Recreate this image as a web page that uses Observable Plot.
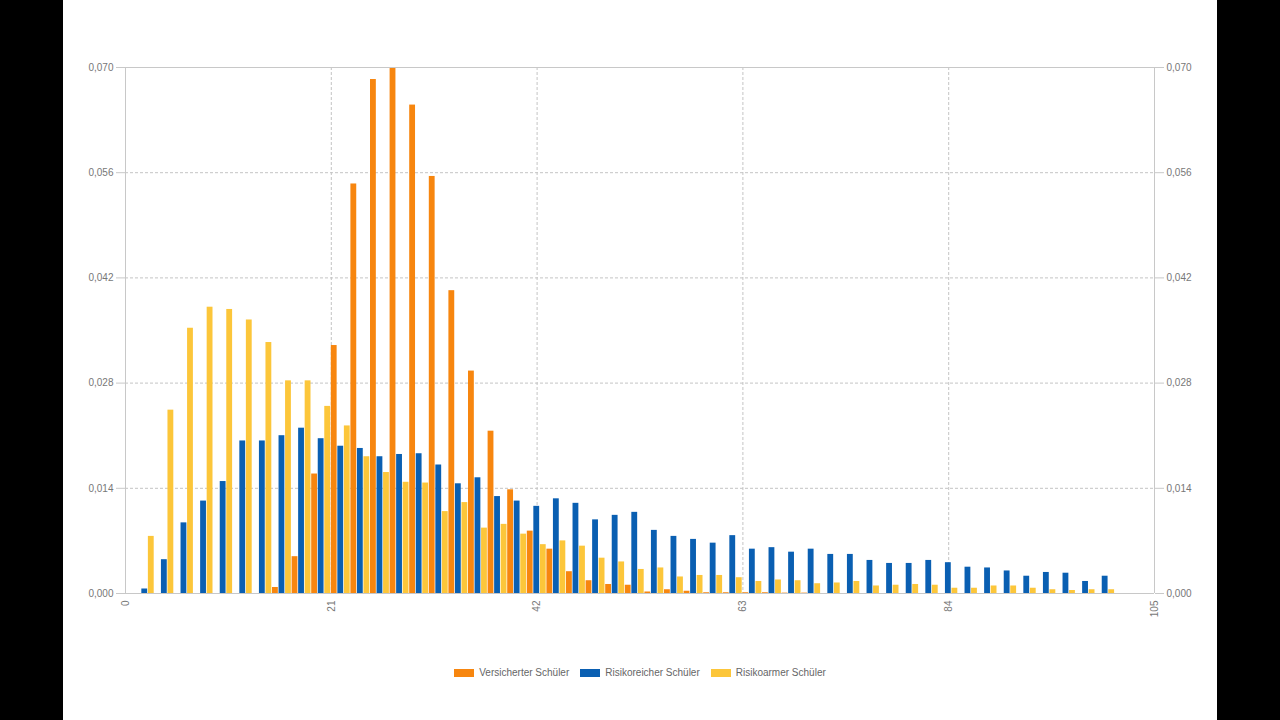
<!DOCTYPE html>
<html>
<head>
<meta charset="utf-8">
<script src="https://cdn.jsdelivr.net/npm/d3@7"></script>
<script src="https://cdn.jsdelivr.net/npm/@observablehq/plot@0.6"></script>
<style>
  html, body { margin: 0; padding: 0; background: #000; width: 1280px; height: 720px; overflow: hidden; }
  #panel { position: absolute; left: 63px; top: 0; width: 1154px; height: 720px; background: #fff; }
  #legend { display: flex; justify-content: center; align-items: center; margin-top: 27px;
            font-family: "Liberation Sans", Arial, sans-serif; font-size: 10px; color: #666; }
  .item { display: flex; align-items: center; margin: 0 5.5px; }
  .sw { width: 20px; height: 8px; margin-right: 5px; }
</style>
</head>
<body>
<div id="panel"></div>
<script>
const groups = [2,4,6,8,10,12,14,16,18,20,22,24,26,28,30,32,34,36,38,40,42,44,46,48,50,52,54,56,58,60,62,64,66,68,70,72,74,76,78,80,82,84,86,88,90,92,94,96,98,100];

const versicherter = [0,0,0,0,0,0,0,0.0008,0.0049,0.0159,0.0330,0.0545,0.0684,0.0699,0.0650,0.0555,0.0403,0.0296,0.0216,0.0138,0.0083,0.0059,0.0029,0.0017,0.0012,0.0011,0.0002,0.0005,0.0003,0.0001,0.0001,0.0001,0.0001,0.00005,0.00005,0,0,0,0,0,0,0,0,0,0,0,0,0,0,0];

const risikoreich = [0.0006,0.0045,0.0094,0.0123,0.0149,0.0203,0.0203,0.0210,0.0220,0.0206,0.0196,0.0193,0.0182,0.0185,0.0186,0.0171,0.0146,0.0154,0.0129,0.0123,0.0116,0.0126,0.0120,0.0098,0.0104,0.0108,0.0084,0.0076,0.0072,0.0067,0.0077,0.0059,0.0061,0.0055,0.0059,0.0052,0.0052,0.0044,0.0040,0.0040,0.0044,0.0041,0.0035,0.0034,0.0030,0.0023,0.0028,0.0027,0.0016,0.0023];

const risikoarm = [0.0076,0.0244,0.0353,0.0381,0.0378,0.0364,0.0334,0.0283,0.0283,0.0249,0.0223,0.0182,0.0161,0.0148,0.0147,0.0109,0.0121,0.0087,0.0092,0.0079,0.0065,0.0070,0.0063,0.0047,0.0042,0.0032,0.0034,0.0022,0.0024,0.0024,0.0021,0.0016,0.0018,0.0017,0.0013,0.0014,0.0016,0.0010,0.0011,0.0012,0.0011,0.0007,0.0007,0.0010,0.0010,0.0007,0.0005,0.0004,0.0005,0.0005];

const seriesNames = ["Versicherter Schüler", "Risikoreicher Schüler", "Risikoarmer Schüler"];
const seriesColors = ["#f7860f", "#0a5fb2", "#fcc63a"];
const xTicks = [0, 21, 42, 63, 84, 105];
const yTicks = [0, 0.014, 0.028, 0.042, 0.056, 0.070];

const seriesValues = [versicherter, risikoreich, risikoarm];
const slot = 2 / seriesNames.length;
const data = groups.flatMap((g, i) => seriesNames.map((s, k) => ({
  series: s,
  x1: g - 1 + k * slot,
  x2: g - 1 + (k + 1) * slot,
  v: seriesValues[k][i]
})));

const fmt = d => d3.format(".3f")(d).replace(".", ",");
const frame = "#c8c8c8";
const grid = "#c4c4c4";

const chart = Plot.plot({
  width: 1154,
  height: 640,
  marginLeft: 62,
  marginRight: 63,
  marginTop: 67,
  marginBottom: 47,
  style: { fontFamily: "'Liberation Sans', Arial, sans-serif", fontSize: "10px", background: "white", overflow: "visible" },
  x: { domain: [0, 105] },
  y: { domain: [0, 0.07] },
  color: { domain: seriesNames, range: seriesColors },
  marks: [
    Plot.gridY(yTicks.slice(1, -1), { stroke: grid, strokeOpacity: 1, strokeDasharray: "3,2" }),
    Plot.gridX(xTicks.slice(1, -1), { stroke: grid, strokeOpacity: 1, strokeDasharray: "3,2" }),
    Plot.rectY(data, { x1: "x1", x2: "x2", y: "v", fill: "series", insetRight: 0.7 }),
    Plot.ruleY([0, 0.07], { stroke: frame }),
    Plot.ruleX([0, 105], { stroke: frame }),
    Plot.axisY(yTicks, { anchor: "left", tickSize: 9, tickPadding: 3, tickFormat: fmt, stroke: frame, fill: "#777", label: null }),
    Plot.axisY(yTicks, { anchor: "right", tickSize: 9, tickPadding: 3, tickFormat: fmt, stroke: frame, fill: "#777", label: null }),
    Plot.axisX(xTicks, { tickSize: 0, tickRotate: -90, tickPadding: 7, tickFormat: d => String(d), fill: "#777", label: null })
  ]
});

const panel = document.getElementById("panel");
panel.appendChild(chart);

const legend = document.createElement("div");
legend.id = "legend";
seriesNames.forEach((s, k) => {
  const it = document.createElement("div");
  it.className = "item";
  const sw = document.createElement("div");
  sw.className = "sw";
  sw.style.background = seriesColors[k];
  const tx = document.createElement("span");
  tx.textContent = s;
  it.appendChild(sw);
  it.appendChild(tx);
  legend.appendChild(it);
});
panel.appendChild(legend);
</script>
</body>
</html>
